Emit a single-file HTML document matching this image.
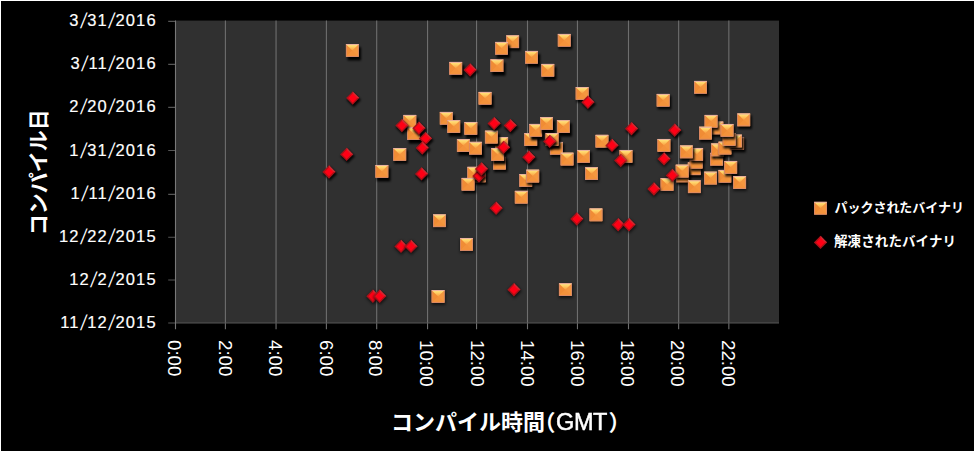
<!DOCTYPE html>
<html lang="ja"><head><meta charset="utf-8"><title>コンパイル時間とコンパイル日</title>
<style>
html,body{margin:0;padding:0;background:#fff;}
body{width:975px;height:453px;position:relative;overflow:hidden;font-family:"Liberation Sans",sans-serif;color:#fff;}
.chart{position:absolute;left:0;top:0;display:block;}
.yl{position:absolute;left:40px;width:116.75px;text-align:right;font-size:16.5px;line-height:20px;height:20px;letter-spacing:1.15px;white-space:nowrap;-webkit-text-stroke:0.18px #fff;}
.yl i{font-style:normal;display:inline-block;width:7.6px;text-align:center;letter-spacing:0;-webkit-text-stroke:0;transform:skewX(-11deg) scaleY(1.3);}
.xl{position:absolute;top:340.3px;font-size:18.7px;line-height:20px;height:20px;white-space:nowrap;transform-origin:0 0;transform:rotate(90deg);}
.gmt{position:absolute;left:556px;top:408.9px;font-size:23.5px;line-height:26px;white-space:nowrap;letter-spacing:-0.4px;-webkit-text-stroke:0.5px #fff;will-change:transform;}
</style></head>
<body>
<svg class="chart" width="975" height="453" viewBox="0 0 975 453">
<defs>
<filter id="sh1" x="-60%" y="-60%" width="220%" height="220%"><feGaussianBlur stdDeviation="1.45"/></filter>
<filter id="sh2" x="-60%" y="-60%" width="220%" height="220%"><feGaussianBlur stdDeviation="1.2"/></filter>
<filter id="sh3" x="-60%" y="-60%" width="220%" height="220%"><feGaussianBlur stdDeviation="0.9"/></filter>
<filter id="sf" x="-30%" y="-30%" width="160%" height="160%"><feGaussianBlur stdDeviation="0.55"/></filter>
<linearGradient id="gt" x1="0" y1="0" x2="0" y2="1"><stop offset="0" stop-color="#ffea86"/><stop offset="0.4" stop-color="#ffd166"/><stop offset="1" stop-color="#f99c41"/></linearGradient>
<g id="sq0">
<rect x="-6.35" y="-6.3" width="12.8" height="12.6" fill="#f4943e"/>
<path d="M-6.35-6.3L0.05 0L-6.35 6.3Z" fill="#f08c35"/>
<path d="M6.45-6.3L0.05 0L6.45 6.3Z" fill="#f4973f"/>
<path d="M-6.35 6.3L0.05 0L6.45 6.3Z" fill="#f3923b"/>
<path d="M-6.35-6.3L6.45-6.3L0.05 0Z" fill="url(#gt)"/>
<rect x="-6.05" y="-6" width="12.2" height="12" fill="none" stroke="#cf877f" stroke-width="0.6"/>
<path d="M-6.35-5.95H6.45" stroke="#f0b8aa" stroke-width="0.8"/>
</g>
<g id="di0">
<path d="M0-6.7L6.6 0L0 6.7L-6.6 0Z" fill="#ac1119"/>
<path d="M0-6.7L6.6 0L0 0Z" fill="#cf2a33"/>
<path d="M0-4.6L4.5 0L0 4.6L-4.5 0Z" fill="#ff0614" filter="url(#sf)"/>
</g>
<g id="sq1">
<rect x="-6.35" y="-5.3" width="13.8" height="13.6" fill="#000" opacity="0.66" filter="url(#sh1)"/>
<rect x="-6.35" y="-6.3" width="12.8" height="12.6" fill="#f4943e"/>
<path d="M-6.35-6.3L0.05 0L-6.35 6.3Z" fill="#f08c35"/>
<path d="M6.45-6.3L0.05 0L6.45 6.3Z" fill="#f4973f"/>
<path d="M-6.35 6.3L0.05 0L6.45 6.3Z" fill="#f3923b"/>
<path d="M-6.35-6.3L6.45-6.3L0.05 0Z" fill="url(#gt)"/>
<rect x="-6.05" y="-6" width="12.2" height="12" fill="none" stroke="#cf877f" stroke-width="0.6"/>
<path d="M-6.35-5.95H6.45" stroke="#f0b8aa" stroke-width="0.8"/>
</g>
<g id="di1">
<path d="M0.4 -6.1L7.7 1.2L0.4 8.5L-6.9 1.2Z" fill="#000" opacity="0.66" filter="url(#sh1)"/>
<path d="M0-6.7L6.6 0L0 6.7L-6.6 0Z" fill="#ac1119"/>
<path d="M0-6.7L6.6 0L0 0Z" fill="#cf2a33"/>
<path d="M0-4.6L4.5 0L0 4.6L-4.5 0Z" fill="#ff0614" filter="url(#sf)"/>
</g>
<g id="sq2">
<rect x="-5.5" y="-4.45" width="13.7" height="13.5" fill="#000" opacity="0.9" filter="url(#sh2)"/>
<rect x="-6.35" y="-6.3" width="12.8" height="12.6" fill="#f4943e"/>
<path d="M-6.35-6.3L0.05 0L-6.35 6.3Z" fill="#f08c35"/>
<path d="M6.45-6.3L0.05 0L6.45 6.3Z" fill="#f4973f"/>
<path d="M-6.35 6.3L0.05 0L6.45 6.3Z" fill="#f3923b"/>
<path d="M-6.35-6.3L6.45-6.3L0.05 0Z" fill="url(#gt)"/>
<rect x="-6.05" y="-6" width="12.2" height="12" fill="none" stroke="#cf877f" stroke-width="0.6"/>
<path d="M-6.35-5.95H6.45" stroke="#f0b8aa" stroke-width="0.8"/>
</g>
<g id="di2">
<path d="M1.04 -5.4L8.28 1.84L1.04 9.07L-6.2 1.84Z" fill="#000" opacity="0.9" filter="url(#sh2)"/>
<path d="M0-6.7L6.6 0L0 6.7L-6.6 0Z" fill="#ac1119"/>
<path d="M0-6.7L6.6 0L0 0Z" fill="#cf2a33"/>
<path d="M0-4.6L4.5 0L0 4.6L-4.5 0Z" fill="#ff0614" filter="url(#sf)"/>
</g>
<g id="sq3">
<rect x="-4.75" y="-3.3" width="13.4" height="13.2" fill="#000" opacity="1.0" filter="url(#sh3)"/>
<rect x="-6.35" y="-6.3" width="12.8" height="12.6" fill="#f4943e"/>
<path d="M-6.35-6.3L0.05 0L-6.35 6.3Z" fill="#f08c35"/>
<path d="M6.45-6.3L0.05 0L6.45 6.3Z" fill="#f4973f"/>
<path d="M-6.35 6.3L0.05 0L6.45 6.3Z" fill="#f3923b"/>
<path d="M-6.35-6.3L6.45-6.3L0.05 0Z" fill="url(#gt)"/>
<rect x="-6.05" y="-6" width="12.2" height="12" fill="none" stroke="#cf877f" stroke-width="0.6"/>
<path d="M-6.35-5.95H6.45" stroke="#f0b8aa" stroke-width="0.8"/>
</g>
<g id="di3">
<path d="M1.52 -4.4L8.56 2.64L1.52 9.68L-5.52 2.64Z" fill="#000" opacity="1.0" filter="url(#sh3)"/>
<path d="M0-6.7L6.6 0L0 6.7L-6.6 0Z" fill="#ac1119"/>
<path d="M0-6.7L6.6 0L0 0Z" fill="#cf2a33"/>
<path d="M0-4.6L4.5 0L0 4.6L-4.5 0Z" fill="#ff0614" filter="url(#sf)"/>
</g>
</defs>
<rect x="1" y="1" width="973" height="450" fill="#000"/>
<rect x="175" y="20.6" width="604" height="302.4" fill="#303030"/>
<path d="M225.4 20.6V329.2M276.05 20.6V329.2M326.4 20.6V329.2M376.7 20.6V329.2M427.55 20.6V329.2M476.55 20.6V329.2M527.5 20.6V329.2M577.45 20.6V329.2M628.5 20.6V329.2M678.65 20.6V329.2M728.85 20.6V329.2" stroke="#6e6e6e" stroke-width="1.1" fill="none"/>
<path d="M168.2 323H779" stroke="#565656" stroke-width="1.2" fill="none"/>
<path d="M168.2 21.4H175.5M168.2 64.4H175.5M168.2 107.35H175.5M168.2 150.5H175.5M168.2 194.35H175.5M168.2 237.2H175.5M168.2 280H175.5" stroke="#565656" stroke-width="1.1" fill="none"/>
<path d="M175.5 20.6V329.2" stroke="#787878" stroke-width="1.1" fill="none"/>
<g><use href="#sq3" x="352.3" y="50.5"/><use href="#sq3" x="455.65" y="68.3"/><use href="#sq3" x="496.85" y="65.7"/><use href="#sq2" x="512.6" y="41.8"/><use href="#sq3" x="501.5" y="48.3"/><use href="#sq3" x="531.5" y="57.3"/><use href="#sq3" x="547.75" y="70.3"/><use href="#sq2" x="564.2" y="40.3"/><use href="#sq2" x="582.1" y="93.5"/><use href="#sq3" x="485" y="98.3"/><use href="#sq2" x="700.5" y="87.3"/><use href="#sq2" x="663.1" y="100.3"/><use href="#sq3" x="409.75" y="121.3"/><use href="#sq3" x="413.6" y="133.7"/><use href="#sq3" x="446.2" y="118.3"/><use href="#sq3" x="453.7" y="126.6"/><use href="#sq3" x="470.75" y="128.4"/><use href="#sq3" x="463.3" y="145.6"/><use href="#sq3" x="475.5" y="148.2"/><use href="#sq2" x="399.7" y="154.5"/><use href="#sq3" x="501.6" y="143.5"/><use href="#sq3" x="491.3" y="137.1"/><use href="#sq2" x="499.4" y="163.2"/><use href="#sq3" x="497.6" y="154.5"/><use href="#sq3" x="530.7" y="139.6"/><use href="#sq3" x="535.6" y="130.3"/><use href="#sq3" x="546.4" y="123.6"/><use href="#sq3" x="563.3" y="126.6"/><use href="#sq2" x="556.3" y="148.3"/><use href="#sq3" x="552" y="139.5"/><use href="#sq2" x="567" y="159.1"/><use href="#sq2" x="583.5" y="156.4"/><use href="#sq2" x="601.9" y="141.2"/><use href="#sq2" x="663.85" y="145.4"/><use href="#sq2" x="716.8" y="128"/><use href="#sq2" x="711" y="121.3"/><use href="#sq2" x="705.4" y="133.15"/><use href="#sq2" x="743.7" y="119.9"/><use href="#sq2" x="716.6" y="159.2"/><use href="#sq2" x="717.5" y="149.9"/><use href="#sq2" x="724.9" y="148.1"/><use href="#sq2" x="737.6" y="143.3"/><use href="#sq2" x="735.5" y="141.05"/><use href="#sq2" x="729.1" y="139.4"/><use href="#sq2" x="727" y="130.4"/><use href="#sq2" x="694.2" y="168.8"/><use href="#sq2" x="696.1" y="162.2"/><use href="#sq2" x="696.6" y="154.4"/><use href="#sq2" x="686.3" y="151.9"/><use href="#sq2" x="682.5" y="175.9"/><use href="#sq2" x="682.1" y="171.1"/><use href="#sq2" x="724.8" y="176.3"/><use href="#sq2" x="730.65" y="167.35"/><use href="#sq1" x="710.5" y="178.1"/><use href="#sq1" x="739.6" y="182.6"/><use href="#sq1" x="694.3" y="186.8"/><use href="#sq1" x="667" y="184.5"/><use href="#sq2" x="625.9" y="156.4"/><use href="#sq1" x="591.5" y="173.7"/><use href="#sq3" x="381.8" y="171.4"/><use href="#sq2" x="479.2" y="175.9"/><use href="#sq2" x="473.75" y="173.2"/><use href="#sq2" x="468" y="184.3"/><use href="#sq2" x="525.7" y="180.5"/><use href="#sq2" x="532.7" y="176.1"/><use href="#sq1" x="521.2" y="197.2"/><use href="#sq1" x="439.4" y="220.8"/><use href="#sq1" x="595.9" y="214.9"/><use href="#sq1" x="466.4" y="244.4"/><use href="#sq1" x="438.05" y="296.5"/><use href="#sq1" x="565.3" y="289.7"/></g>
<g><use href="#di2" x="352.7" y="98.1"/><use href="#di2" x="401.9" y="125.6"/><use href="#di2" x="418.9" y="128.3"/><use href="#di2" x="425.5" y="138.6"/><use href="#di2" x="422.3" y="148"/><use href="#di2" x="346.65" y="154.4"/><use href="#di2" x="494.1" y="123.6"/><use href="#di2" x="510.3" y="125.6"/><use href="#di2" x="503.6" y="147.4"/><use href="#di2" x="549.7" y="141.4"/><use href="#di2" x="587.9" y="102.3"/><use href="#di2" x="528.8" y="157.2"/><use href="#di2" x="631.5" y="128.7"/><use href="#di2" x="674.65" y="130.3"/><use href="#di2" x="612" y="145.4"/><use href="#di1" x="664" y="158.9"/><use href="#di2" x="329" y="172"/><use href="#di2" x="421.5" y="173.9"/><use href="#di2" x="479" y="176"/><use href="#di2" x="481.45" y="169"/><use href="#di1" x="496.1" y="208.3"/><use href="#di1" x="576.8" y="219"/><use href="#di1" x="620.7" y="160.45"/><use href="#di1" x="672.3" y="175.4"/><use href="#di1" x="653.9" y="189"/><use href="#di1" x="401" y="246.4"/><use href="#di1" x="411" y="246.4"/><use href="#di1" x="618.2" y="224.8"/><use href="#di1" x="629" y="224.8"/><use href="#di1" x="372.9" y="296.3"/><use href="#di1" x="379.7" y="296.3"/><use href="#di1" x="513.95" y="289.7"/><use href="#di2" x="470.1" y="70"/></g>
<use href="#sq0" x="820.45" y="208.2"/>
<use href="#di0" x="820.5" y="242.4"/>
<g aria-label="コンパイル時間（GMT）" font-family="&quot;Liberation Sans&quot;, &quot;Noto Sans CJK JP&quot;, sans-serif" font-size="22" font-weight="bold" fill="#fff"><text x="391" y="430" textLength="154" lengthAdjust="spacing">コンパイル時間</text><text x="555.5" y="430" text-anchor="end">（</text><text x="608.5" y="430" text-anchor="start">）</text></g>
<g aria-label="コンパイル日" transform="translate(46,234.7) rotate(-90)"><text x="-0.5" y="0" font-family="&quot;Liberation Sans&quot;, &quot;Noto Sans CJK JP&quot;, sans-serif" font-size="21" font-weight="bold" fill="#fff" textLength="126" lengthAdjust="spacing">コンパイル日</text></g>
<g aria-label="パックされたバイナリ"><text x="834.5" y="211.5" font-family="&quot;Liberation Sans&quot;, &quot;Noto Sans CJK JP&quot;, sans-serif" font-size="13" font-weight="bold" fill="#fff" textLength="129.5" lengthAdjust="spacing">パックされたバイナリ</text></g>
<g aria-label="解凍されたバイナリ"><text x="834" y="246.4" font-family="&quot;Liberation Sans&quot;, &quot;Noto Sans CJK JP&quot;, sans-serif" font-size="13.5" font-weight="bold" fill="#fff" textLength="122" lengthAdjust="spacing">解凍されたバイナリ</text></g>
</svg>
<div class="yl" style="top:9.9px">3<i>/</i>31<i>/</i>2016</div>
<div class="yl" style="top:52.9px">3<i>/</i>11<i>/</i>2016</div>
<div class="yl" style="top:95.9px">2<i>/</i>20<i>/</i>2016</div>
<div class="yl" style="top:139.9px">1<i>/</i>31<i>/</i>2016</div>
<div class="yl" style="top:183.4px">1<i>/</i>11<i>/</i>2016</div>
<div class="yl" style="top:225.9px">12<i>/</i>22<i>/</i>2015</div>
<div class="yl" style="top:268.9px">12<i>/</i>2<i>/</i>2015</div>
<div class="yl" style="top:311.9px">11<i>/</i>12<i>/</i>2015</div>
<div class="xl" style="left:184.28px">0:00</div>
<div class="xl" style="left:234.98px">2:00</div>
<div class="xl" style="left:285.18px">4:00</div>
<div class="xl" style="left:336.08px">6:00</div>
<div class="xl" style="left:385.48px">8:00</div>
<div class="xl" style="left:436.38px">10:00</div>
<div class="xl" style="left:487.28px">12:00</div>
<div class="xl" style="left:537.48px">14:00</div>
<div class="xl" style="left:587.48px">16:00</div>
<div class="xl" style="left:637.48px">18:00</div>
<div class="xl" style="left:687.28px">20:00</div>
<div class="xl" style="left:738.48px">22:00</div>
<div class="gmt">GMT</div>
</body></html>
